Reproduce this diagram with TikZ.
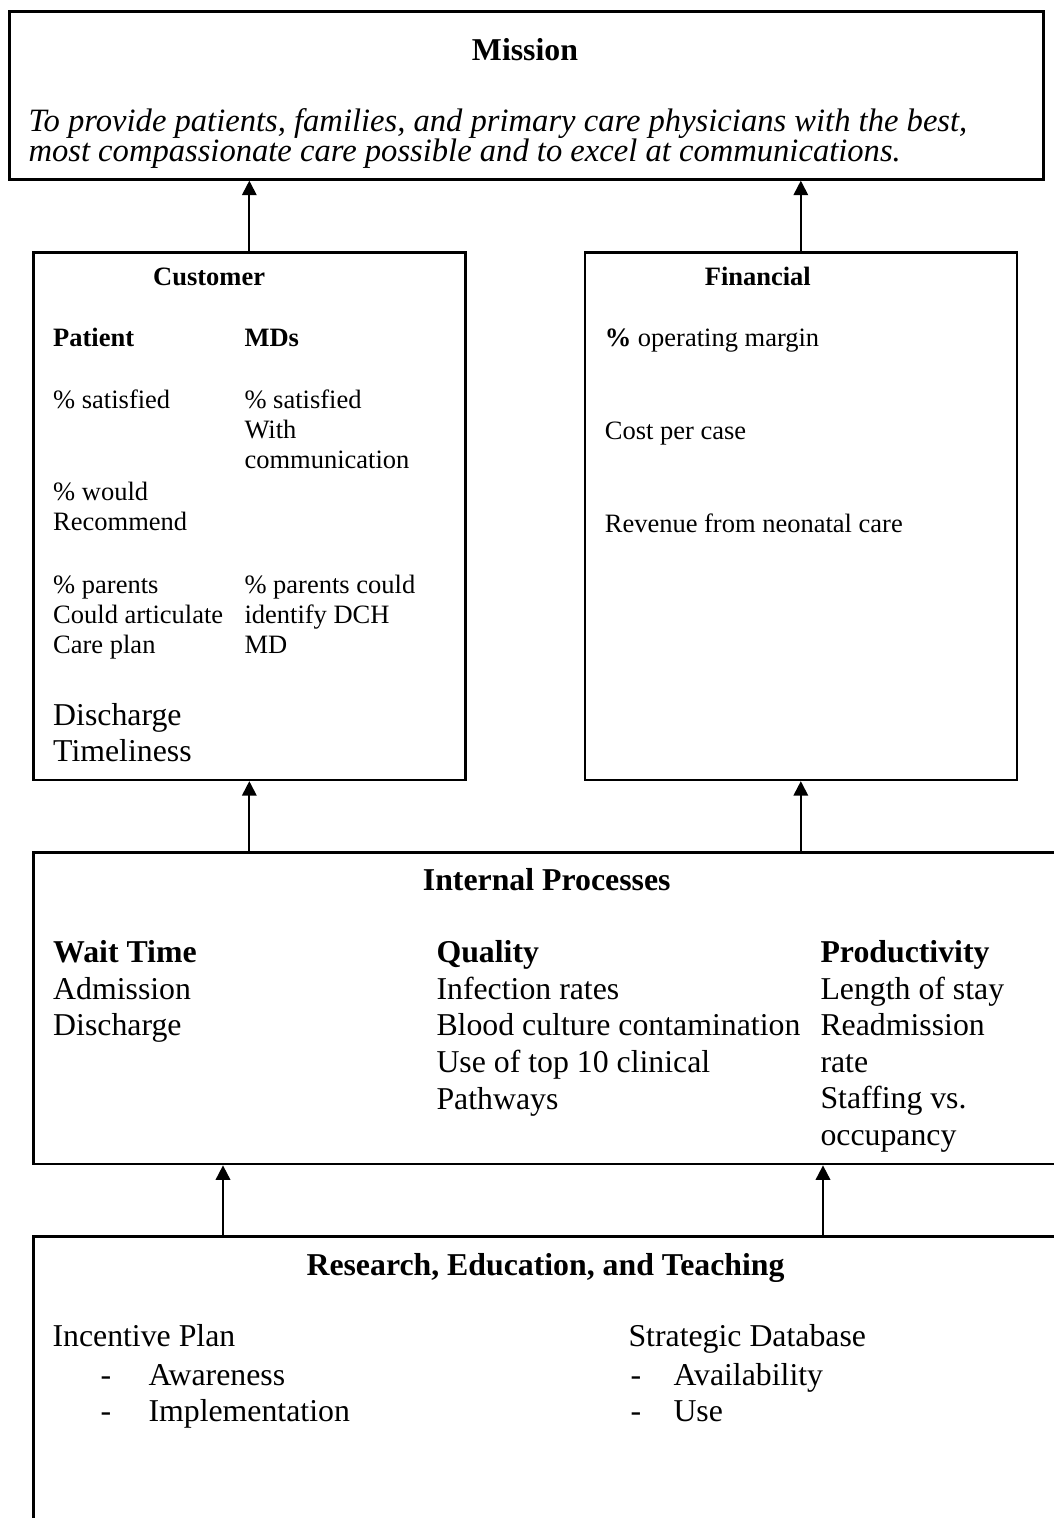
\documentclass[tikz,border=0pt]{standalone}
\usepackage{fontspec}
\setmainfont{Liberation Serif}
\usetikzlibrary{arrows.meta,calc}
\newcommand\pxl{0.3774pt}

\tikzset{
  box/.style={draw, line width=1pt, inner sep=0pt, anchor=north west},
  up/.style={-{Triangle[length=5.5pt,width=5.5pt]}, line width=0.7pt},
  big/.style={anchor=base west, inner sep=0pt, align=left, font=\fontsize{12}{13.8}\selectfont},
  small/.style={anchor=base west, inner sep=0pt, align=left, font=\fontsize{10}{11.3}\selectfont},
  smallbf/.style={small, font=\fontsize{10}{11.3}\selectfont\bfseries},
  head/.style={anchor=base, inner sep=0pt, font=\fontsize{12}{13.8}\selectfont\bfseries},
}

\begin{document}
\begin{tikzpicture}[x=\pxl, y=-\pxl]
  \useasboundingbox (0,0) rectangle (1054,1518);
  \clip (0,0) rectangle (1054,1518);

  % the five boxes
  \node[box, minimum width=1034*\pxl, minimum height=168*\pxl] (mission) at (8,10) {};
  \node[box, minimum width=432*\pxl, minimum height=527.5*\pxl] (customer) at (32,251) {};
  \node[box, minimum width=432*\pxl, minimum height=527.5*\pxl] (financial) at (583.5,251) {};
  \node[box, minimum width=1040*\pxl, minimum height=311.7*\pxl] (internal) at (32,851) {};
  \node[box, minimum width=1040*\pxl, minimum height=400*\pxl] (research) at (32,1235) {};

  % arrows
  \draw[up] (customer.north) -- (customer.north |- mission.south);
  \draw[up] (financial.north) -- (financial.north |- mission.south);
  \draw[up] (customer.south |- internal.north) -- (customer.south);
  \draw[up] (financial.south |- internal.north) -- (financial.south);
  \coordinate (resleft) at (223,1235);
  \coordinate (resright) at (823,1235);
  \draw[up] (resleft) -- (resleft |- internal.south);
  \draw[up] (resright) -- (resright |- internal.south);

  % Mission
  % multi-line nodes sit on the baseline of their last line
  \node[head] (mtitle) at (525,60) {Mission};
  \node[big, font=\fontsize{12.3}{13}\selectfont\itshape] (mline1) at (28,131.7)
    {To provide patients, families, and primary care physicians with the best,};
  \node[big, font=\fontsize{12.3}{13}\selectfont\itshape] (mline2) at (28,161)
    {most compassionate care possible and to excel at communications.};

  % Customer
  \node[smallbf] (ctitle) at (152.7,285) {Customer};
  \node[smallbf] (patient) at (52.7,346.7) {Patient};
  \node[smallbf] (mds) at (244,346.7) {MDs};
  \node[small] (psat) at (52.7,408.3) {\% satisfied};
  \node[small] (prec) at (52.7,530) {\% would\\Recommend};
  \node[small] (pplan) at (52.7,653) {\% parents\\Could articulate\\Care plan};
  \node[small] (msat) at (244,468.2) {\% satisfied\\With\\communication};
  \node[small] (mid) at (244,653) {\% parents could\\identify DCH\\MD};
  \node[big, font=\fontsize{12}{13.85}\selectfont] (disch) at (52.7,761.7) {Discharge\\Timeliness};

  % Financial
  \node[smallbf] (ftitle) at (704.3,285) {Financial};
  \node[small] (margin) at (604.3,346.7) {{\bfseries\%} operating margin};
  \node[small] (cost) at (604.3,439.3) {Cost per case};
  \node[small] (revenue) at (604.3,532.7) {Revenue from neonatal care};

  % Internal Processes
  \node[head] (ititle) at (546.7,890.7) {Internal Processes};
  \node[big] (wait) at (52.7,1035.8) {\textbf{Wait Time}\\Admission\\Discharge};
  \node[big] (quality) at (436,1109)
    {\textbf{Quality}\\Infection rates\\Blood culture contamination\\Use of top 10 clinical\\Pathways};
  \node[big] (prod) at (820,1145.5)
    {\textbf{Productivity}\\Length of stay\\Readmission\\rate\\Staffing vs.\\occupancy};

  % Research, Education, and Teaching
  \node[head] (rtitle) at (545.5,1275) {Research, Education, and Teaching};
  \node[big] (incentive) at (52,1346.7) {Incentive Plan};
  \node[big] (database) at (628,1346.7) {Strategic Database};
  \foreach \t/\y/\n in {Awareness/1385/aware, Implementation/1421/impl} {
    \node[big] (dash-\n) at (100,\y) {-};
    \node[big] (\n) at (148,\y) {\t};
  }
  \foreach \t/\y/\n in {Availability/1385/avail, Use/1421/use} {
    \node[big] (dash-\n) at (630,\y) {-};
    \node[big] (\n) at (673,\y) {\t};
  }
\end{tikzpicture}
\end{document}
